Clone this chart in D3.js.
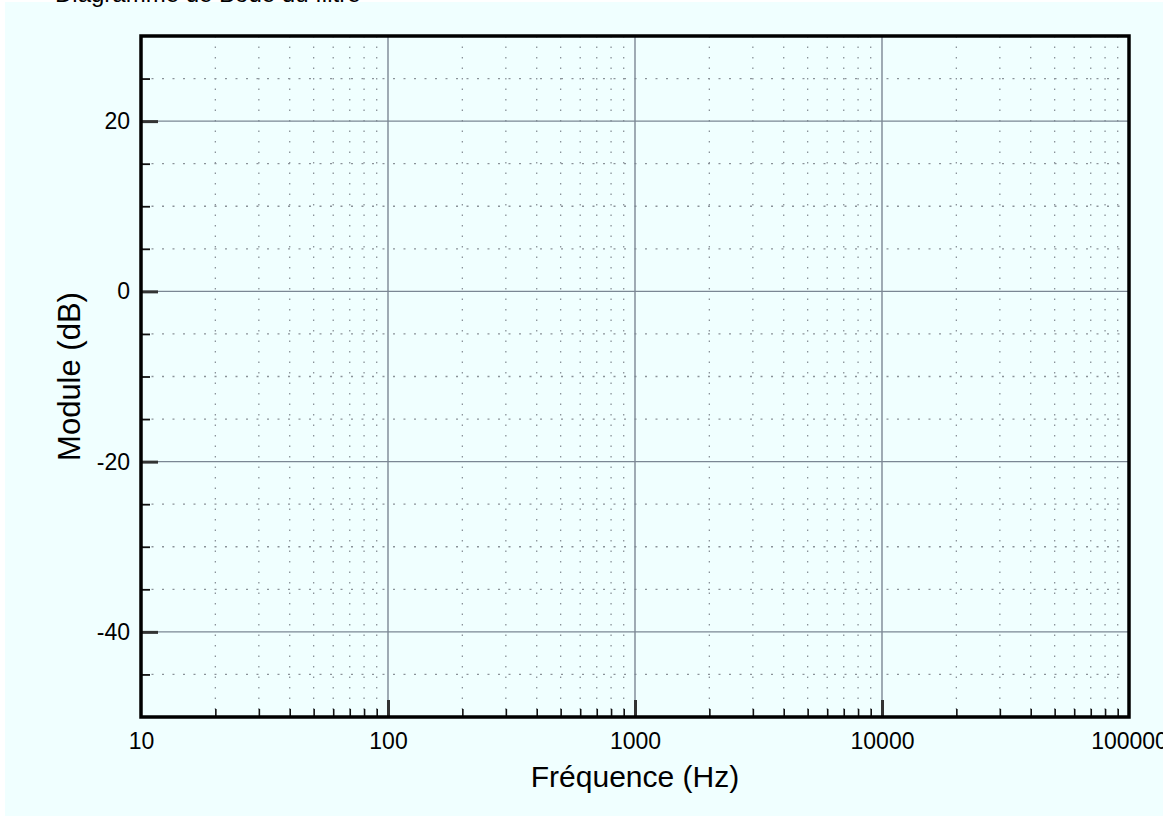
<!DOCTYPE html>
<html>
<head>
<meta charset="utf-8">
<script src="https://cdn.jsdelivr.net/npm/d3@7"></script>
<style>
  html, body { margin: 0; padding: 0; background: #ffffff; }
  svg { display: block; }
  text { font-family: "Liberation Sans", Arial, Helvetica, sans-serif; fill: #000; }
</style>
</head>
<body>
<svg id="chart" width="1171" height="818"></svg>
<script>
// ---- data ----
const xDomain = [10, 100000];
const yDomain = [-50, 30];
const xMajorTicks = [10, 100, 1000, 10000, 100000];
const xTickLabels = ["10", "100", "1000", "10000", "100000"];
const xMinorTicks = [20,30,40,50,60,70,80,90,200,300,400,500,600,700,800,900,2000,3000,4000,5000,6000,7000,8000,9000,20000,30000,40000,50000,60000,70000,80000,90000];
const yMajorTicks = [20, 0, -20, -40];
const yTickLabels = ["20", "0", "-20", "-40"];
const yMinorTicks = [25, 15, 10, 5, -5, -10, -15, -25, -30, -35, -45];
const xTitle = "Fréquence (Hz)";
const yTitle = "Module (dB)";
const topTitle = "Diagramme de Bode du filtre";

// ---- layout ----
const svg = d3.select("#chart");
const L = 141, R = 1129, T = 36, B = 717;

svg.append("rect").attr("x", 5).attr("y", 2).attr("width", 1158).attr("height", 814).attr("fill", "#f0ffff");

svg.append("defs").append("clipPath").attr("id", "clipAll")
  .append("rect").attr("x", 5).attr("y", 2).attr("width", 1158).attr("height", 814);

const g = svg.append("g").attr("clip-path", "url(#clipAll)");

const x = d3.scaleLog().domain(xDomain).range([L, R]);
const y = d3.scaleLinear().domain(yDomain).range([B, T]);

// dotted minor grid
g.append("g").selectAll("line").data(xMinorTicks).join("line")
  .attr("x1", d => x(d)).attr("x2", d => x(d)).attr("y1", T).attr("y2", B)
  .attr("stroke", "#8a9299").attr("stroke-width", 1.3).attr("stroke-dasharray", "1.5,9");
g.append("g").selectAll("line").data(yMinorTicks).join("line")
  .attr("x1", L).attr("x2", R).attr("y1", d => y(d)).attr("y2", d => y(d))
  .attr("stroke", "#8a9299").attr("stroke-width", 1.3).attr("stroke-dasharray", "2,8.5");

// solid major grid
g.append("g").selectAll("line").data(xMajorTicks.slice(1, -1)).join("line")
  .attr("x1", d => x(d)).attr("x2", d => x(d)).attr("y1", T).attr("y2", B)
  .attr("stroke", "#7b8794").attr("stroke-width", 1.4);
g.append("g").selectAll("line").data(yMajorTicks).join("line")
  .attr("x1", L).attr("x2", R).attr("y1", d => y(d)).attr("y2", d => y(d))
  .attr("stroke", "#7b8794").attr("stroke-width", 1.4);

// bottom axis ticks (inside)
const xAxisMinor = d3.axisBottom(x).tickValues(xMinorTicks).tickSize(-8).tickFormat("");
const gxm = g.append("g").attr("transform", `translate(0,${B})`).call(xAxisMinor);
gxm.select(".domain").remove();
gxm.selectAll(".tick line").attr("stroke", "#111").attr("stroke-width", 1.6);

const xAxisMajor = d3.axisBottom(x).tickValues(xMajorTicks).tickSize(-17)
  .tickPadding(16).tickFormat((d, i) => xTickLabels[i]);
const gx = g.append("g").attr("transform", `translate(0,${B})`).call(xAxisMajor);
gx.select(".domain").remove();
gx.selectAll(".tick line").attr("stroke", "#333").attr("stroke-width", 3);
gx.selectAll(".tick text").attr("font-size", 23).attr("font-family", "Liberation Sans, Arial, sans-serif").attr("fill", "#000");

// left axis ticks (inside)
const yAxisMinor = d3.axisLeft(y).tickValues(yMinorTicks).tickSize(-9).tickFormat("");
const gym = g.append("g").attr("transform", `translate(${L},0)`).call(yAxisMinor);
gym.select(".domain").remove();
gym.selectAll(".tick line").attr("stroke", "#111").attr("stroke-width", 1.8);

const yAxisMajor = d3.axisLeft(y).tickValues(yMajorTicks).tickSize(-17)
  .tickPadding(11).tickFormat((d, i) => yTickLabels[i]);
const gy = g.append("g").attr("transform", `translate(${L},0)`).call(yAxisMajor);
gy.select(".domain").remove();
gy.selectAll(".tick line").attr("stroke", "#333").attr("stroke-width", 3);
gy.selectAll(".tick text").attr("font-size", 23).attr("font-family", "Liberation Sans, Arial, sans-serif").attr("fill", "#000");

// hide major ticks at the frame edges (10 and 100000)
gx.selectAll(".tick line").filter(d => d === 10 || d === 100000).remove();

// frame
g.append("rect").attr("x", L).attr("y", T).attr("width", R - L).attr("height", B - T)
  .attr("fill", "none").attr("stroke", "#000").attr("stroke-width", 3.5);

// axis titles
g.append("text").attr("x", (L + R) / 2).attr("y", 787).attr("text-anchor", "middle")
  .attr("font-size", 30).text(xTitle);
g.append("text").attr("transform", `translate(80,${(T + B) / 2}) rotate(-90)`)
  .attr("text-anchor", "middle").attr("font-size", 31).text(yTitle);

// top title (mostly cut off by the window edge, as in the reference)
svg.append("text").attr("x", 55).attr("y", 1.5).attr("font-size", 24).text(topTitle);
</script>
</body>
</html>
